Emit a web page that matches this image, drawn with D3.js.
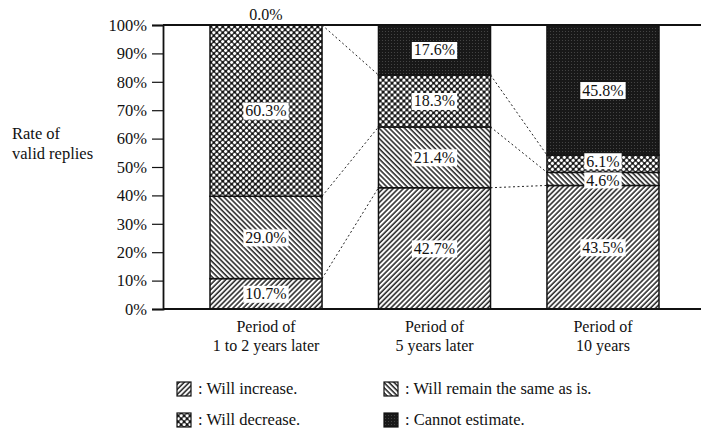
<!DOCTYPE html>
<html>
<head>
<meta charset="utf-8">
<script src="https://cdn.jsdelivr.net/npm/d3@7"></script>
<style>
  body { margin: 0; background: #fff; }
  text { font-family: "Liberation Serif", "DejaVu Serif", serif; fill: #111; }
</style>
</head>
<body>
<div id="chart"></div>
<script>
// chart data
var categories = [["Period of", "1 to 2 years later"], ["Period of", "5 years later"], ["Period of", "10 years"]];
var seriesKeys = ["increase", "same", "decrease", "cannot"];
var seriesNames = ["Will increase.", "Will remain the same as is.", "Will decrease.", "Cannot estimate."];
var increase = [10.7, 42.7, 43.5];
var same = [29.0, 21.4, 4.6];
var decrease = [60.3, 18.3, 6.1];
var cannot = [0.0, 17.6, 45.8];
var yTicks = [0, 10, 20, 30, 40, 50, 60, 70, 80, 90, 100];

var width = 701, height = 429;

var svg = d3.select("#chart").append("svg")
    .attr("width", width)
    .attr("height", height);

// hatch patterns
var defs = svg.append("defs");

function hatch(id, angle) {
    var p = defs.append("pattern")
        .attr("id", id)
        .attr("patternUnits", "userSpaceOnUse")
        .attr("width", 3.6).attr("height", 3.6)
        .attr("patternTransform", "rotate(" + angle + ")");
    p.append("rect").attr("width", 3.6).attr("height", 3.6).attr("fill", "#fff");
    p.append("line").attr("x1", 1).attr("y1", 0).attr("x2", 1).attr("y2", 3.6)
        .attr("stroke", "#111").attr("stroke-width", 1.4);
}
hatch("pat-increase", 45);
hatch("pat-same", -45);

var pd = defs.append("pattern")
    .attr("id", "pat-decrease")
    .attr("patternUnits", "userSpaceOnUse")
    .attr("width", 4.2).attr("height", 4.2)
    .attr("patternTransform", "rotate(45)");
pd.append("rect").attr("width", 4.2).attr("height", 4.2).attr("fill", "#111");
pd.append("circle").attr("cx", 2.1).attr("cy", 2.1).attr("r", 1.6).attr("fill", "#fff");

var pc = defs.append("pattern")
    .attr("id", "pat-cannot")
    .attr("patternUnits", "userSpaceOnUse")
    .attr("width", 3).attr("height", 3);
pc.append("rect").attr("width", 3).attr("height", 3).attr("fill", "#181818");
pc.append("circle").attr("cx", 1.5).attr("cy", 1.5).attr("r", 0.55).attr("fill", "#4a4a4a");

var fills = { increase: "url(#pat-increase)", same: "url(#pat-same)",
              decrease: "url(#pat-decrease)", cannot: "url(#pat-cannot)" };

// scales
var x = d3.scaleBand()
    .domain(d3.range(categories.length))
    .range([210, 659])
    .paddingInner(0.335)
    .paddingOuter(0);

var y = d3.scaleLinear().domain([0, 100]).range([309, 25]);

// stack
var rows = categories.map(function (c, i) {
    return { i: i, increase: increase[i], same: same[i], decrease: decrease[i], cannot: cannot[i] };
});
var stacked = d3.stack().keys(seriesKeys)(rows);

// dashed connectors between neighbouring bars
var connectors = svg.append("g");
stacked.slice(0, 3).forEach(function (layer) {
    for (var i = 0; i < layer.length - 1; i++) {
        connectors.append("line")
            .attr("x1", x(i) + x.bandwidth()).attr("y1", y(layer[i][1]))
            .attr("x2", x(i + 1)).attr("y2", y(layer[i + 1][1]))
            .attr("stroke", "#222").attr("stroke-width", 1)
            .attr("stroke-dasharray", "2,2.5");
    }
});

// bars
var bars = svg.append("g");
stacked.forEach(function (layer) {
    bars.selectAll(null)
        .data(layer.filter(function (d) { return d[1] - d[0] > 0; }))
        .enter().append("rect")
        .attr("x", function (d) { return x(d.data.i); })
        .attr("y", function (d) { return y(d[1]); })
        .attr("width", x.bandwidth())
        .attr("height", function (d) { return y(d[0]) - y(d[1]); })
        .attr("fill", fills[layer.key])
        .attr("stroke", "#111")
        .attr("stroke-width", 1.5);
});

// axes frame
svg.append("line").attr("x1", 163).attr("x2", 701).attr("y1", y(100)).attr("y2", y(100))
    .attr("stroke", "#111").attr("stroke-width", 1.8);
svg.append("line").attr("x1", 163).attr("x2", 701).attr("y1", y(0)).attr("y2", y(0))
    .attr("stroke", "#111").attr("stroke-width", 1.8);

var yAxis = svg.append("g")
    .attr("transform", "translate(163,0)")
    .call(d3.axisLeft(y).tickValues(yTicks).tickSize(11).tickPadding(5)
        .tickFormat(function (d) { return d + "%"; }));
yAxis.select(".domain").attr("stroke", "#111").attr("stroke-width", 1.8);
yAxis.selectAll(".tick line").attr("stroke", "#111").attr("stroke-width", 1.2);
yAxis.selectAll(".tick text")
    .style("font-family", "'Liberation Serif', serif")
    .style("font-size", "16.5px")
    .attr("fill", "#111");

// value labels (thin segments get their labels nudged apart a little)
var labels = svg.append("g");
stacked.forEach(function (layer) {
    layer.forEach(function (d) {
        var v = d[1] - d[0];
        var cx = x(d.data.i) + x.bandwidth() / 2;
        var txt = v.toFixed(1) + "%";
        if (v === 0) {
            labels.append("text").attr("x", cx).attr("y", y(d[1]) - 5)
                .attr("text-anchor", "middle").style("font-size", "16px").text(txt);
            return;
        }
        var cy = y((d[0] + d[1]) / 2);
        var hgt = y(d[0]) - y(d[1]);
        if (hgt < 20) cy += (layer.key === "same" ? 1.5 : -2.5);
        var t = labels.append("text").attr("x", cx).attr("y", cy + 5.5)
            .attr("text-anchor", "middle").style("font-size", "16px").text(txt);
        var bb = t.node().getBBox();
        labels.insert("rect", function () { return t.node(); })
            .attr("x", bb.x - 2).attr("y", cy - 8)
            .attr("width", bb.width + 4).attr("height", hgt < 20 ? 16 : 17)
            .attr("fill", "#fff");
    });
});

// category labels
categories.forEach(function (c, i) {
    var t = svg.append("text")
        .attr("x", x(i) + x.bandwidth() / 2)
        .attr("y", 332)
        .attr("text-anchor", "middle")
        .style("font-size", "16px");
    c.forEach(function (line, k) {
        t.append("tspan").attr("x", x(i) + x.bandwidth() / 2)
            .attr("dy", k === 0 ? 0 : 19).text(line);
    });
});

// y title
var yt = svg.append("text").attr("x", 12).attr("y", 139).style("font-size", "16.5px");
yt.append("tspan").attr("x", 12).text("Rate of");
yt.append("tspan").attr("x", 12).attr("dy", 20).text("valid replies");

// legend
var legendPos = { increase: [177, 382], same: [384, 382], decrease: [177, 413], cannot: [384, 413] };
seriesKeys.forEach(function (k, i) {
    var p = legendPos[k];
    svg.append("rect").attr("x", p[0]).attr("y", p[1])
        .attr("width", 14).attr("height", 14)
        .attr("fill", fills[k]).attr("stroke", "#111").attr("stroke-width", 1.2);
    svg.append("text").attr("x", p[0] + 21).attr("y", p[1] + 11.5)
        .style("font-size", "16.5px").text(": " + seriesNames[i]);
});
</script>
</body>
</html>
